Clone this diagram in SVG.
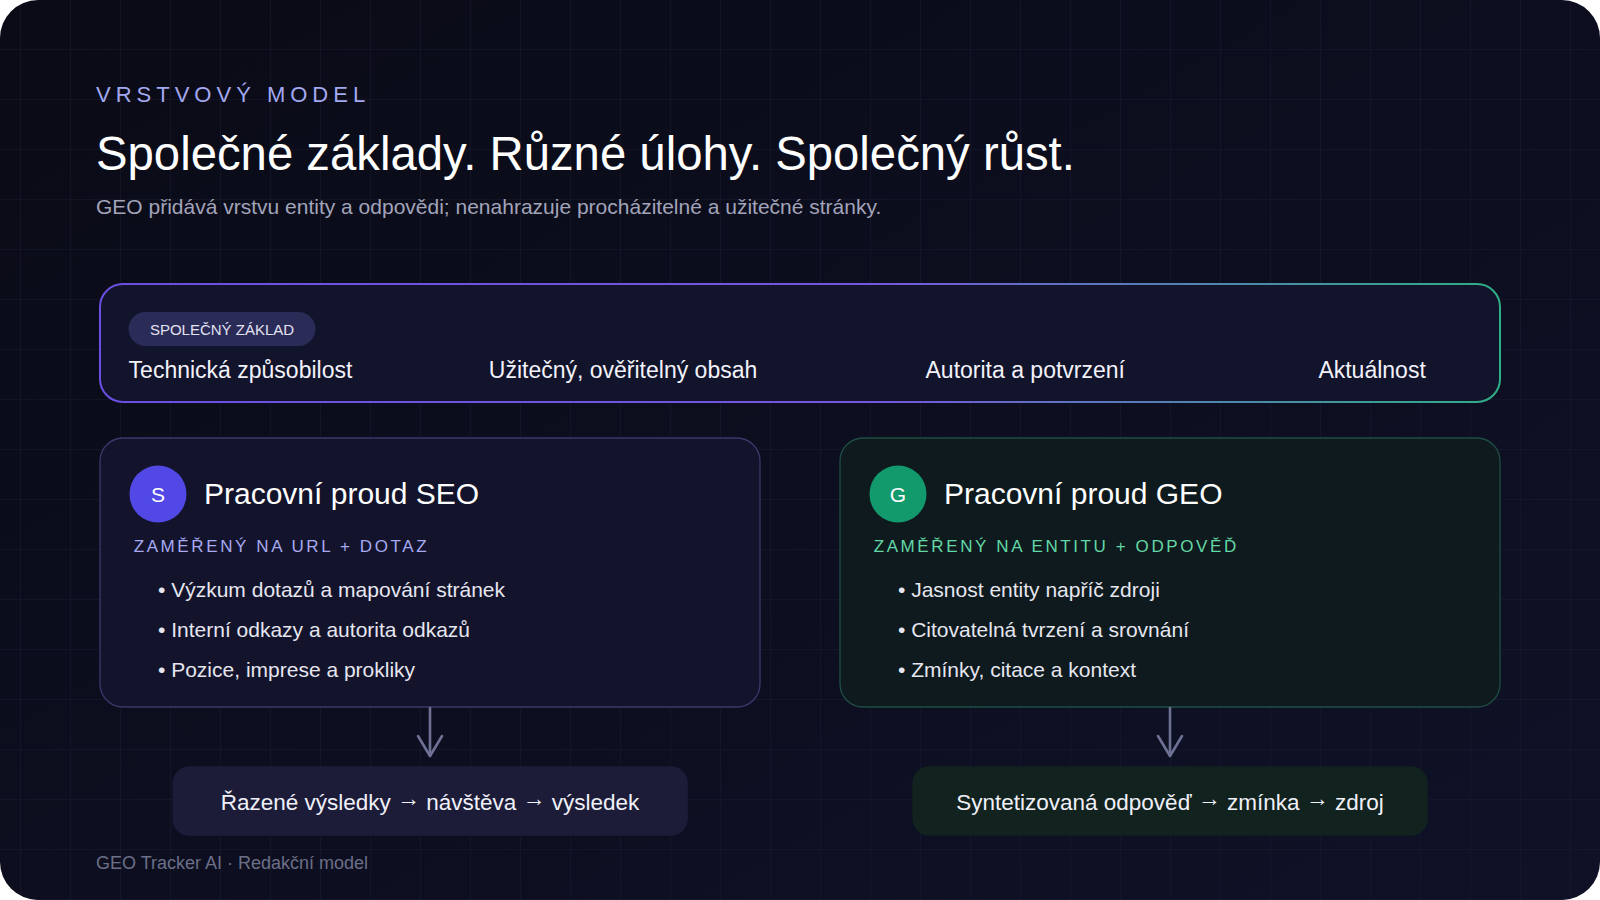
<svg xmlns="http://www.w3.org/2000/svg" width="1600" height="900" viewBox="0 0 1600 900">
  <defs>
    <linearGradient id="bg" x1="0" y1="0" x2="1" y2="1">
      <stop offset="0" stop-color="#0a0b16"/>
      <stop offset="1" stop-color="#0f1127"/>
    </linearGradient>
    <pattern id="grid" x="20" y="-1" width="50" height="50" patternUnits="userSpaceOnUse">
      <path d="M0 0 V50 M0 0 H50" fill="none" stroke="#1a1c32" stroke-width="1"/>
    </pattern>
    <linearGradient id="bandStroke" x1="0" y1="0" x2="1" y2="0">
      <stop offset="0" stop-color="#6a4fe2"/>
      <stop offset="0.55" stop-color="#7656de"/>
      <stop offset="1" stop-color="#2fae86"/>
    </linearGradient>
    <marker id="chev" viewBox="0 0 26 28" refX="23" refY="14" markerWidth="26" markerHeight="28" markerUnits="userSpaceOnUse" orient="auto" overflow="visible">
      <path d="M3 2 L23 14 L3 26" fill="none" stroke="#6e7094" stroke-width="2.6" stroke-linecap="round" stroke-linejoin="round"/>
    </marker>
    <style>
      text { font-family: "Liberation Sans", Arial, Helvetica, sans-serif; }
      .eyebrow { font-size: 22px; letter-spacing: 5px; fill: #a3a8f0; }
      .title { font-size: 47.3px; fill: #ffffff; }
      .subtitle { font-size: 21px; fill: #a2a4ba; }
      .band { fill: #12142b; stroke: url(#bandStroke); stroke-width: 2; }
      .pill { fill: #2b2b58; }
      .pilltext { font-size: 15px; fill: #e2e2f2; text-anchor: middle; }
      .item { font-size: 23px; font-weight: 500; fill: #f2f2fa; }
      .card-seo { fill: #13142b; stroke: #3a396c; stroke-width: 1.3; }
      .card-geo { fill: #0e1a1d; stroke: #1f4d44; stroke-width: 1.3; }
      .badge-seo { fill: #5148e6; }
      .badge-geo { fill: #129a6c; }
      .badgetext { font-size: 21px; fill: #ffffff; text-anchor: middle; }
      .cardtitle { font-size: 30px; fill: #ffffff; }
      .focus { font-size: 17px; letter-spacing: 2.6px; }
      .focus-seo { fill: #a7aaf2; }
      .focus-geo { fill: #62d8a6; }
      .bullet { font-size: 21px; fill: #e6e6f0; }
      .res-seo { fill: #1c1c38; }
      .res-geo { fill: #12221f; }
      .restext { font-size: 22.5px; fill: #f0f0f8; text-anchor: middle; }
      .arr { font-size: 23px; }
      .footer { font-size: 18px; fill: #6c6f88; }
      .conn { stroke: #6e7094; stroke-width: 2.6; fill: none; stroke-linecap: round; marker-end: url(#chev); }
    </style>
  </defs>

  <rect x="0" y="0" width="1600" height="900" fill="#ffffff"/>
  <rect x="0" y="0" width="1600" height="900" rx="38" fill="url(#bg)"/>
  <rect x="0" y="0" width="1600" height="900" rx="38" fill="url(#grid)"/>

  <g id="header">
    <text class="eyebrow" x="96" y="102">VRSTVOVÝ MODEL</text>
    <text class="title" x="96" y="170">Společné základy. Různé úlohy. Společný růst.</text>
    <text class="subtitle" x="96" y="214">GEO přidává vrstvu entity a odpovědi; nenahrazuje procházitelné a užitečné stránky.</text>
  </g>

  <g id="shared-foundation">
    <rect class="band" x="100" y="284" width="1400" height="118" rx="23"/>
    <rect class="pill" x="128.5" y="312" width="187" height="34" rx="17"/>
    <text class="pilltext" x="222" y="334.5">SPOLEČNÝ ZÁKLAD</text>
    <text class="item" x="128.6" y="377.5">Technická způsobilost</text>
    <text class="item" x="488.8" y="377.5">Užitečný, ověřitelný obsah</text>
    <text class="item" x="925.5" y="377.5">Autorita a potvrzení</text>
    <text class="item" x="1318.4" y="377.5">Aktuálnost</text>
  </g>

  <g id="seo-workstream">
    <rect class="card-seo" x="100" y="438" width="660" height="269" rx="23"/>
    <circle class="badge-seo" cx="158" cy="494" r="28.5"/>
    <text class="badgetext" x="158" y="501.5">S</text>
    <text class="cardtitle" x="204" y="504">Pracovní proud SEO</text>
    <text class="focus focus-seo" x="133.7" y="552">ZAMĚŘENÝ NA URL + DOTAZ</text>
    <text class="bullet" x="158" y="597">• Výzkum dotazů a mapování stránek</text>
    <text class="bullet" x="158" y="637">• Interní odkazy a autorita odkazů</text>
    <text class="bullet" x="158" y="676.5">• Pozice, imprese a prokliky</text>
  </g>

  <g id="geo-workstream">
    <rect class="card-geo" x="840" y="438" width="660" height="269" rx="23"/>
    <circle class="badge-geo" cx="898" cy="494" r="28.5"/>
    <text class="badgetext" x="898" y="501.5">G</text>
    <text class="cardtitle" x="944" y="504">Pracovní proud GEO</text>
    <text class="focus focus-geo" x="873.7" y="552">ZAMĚŘENÝ NA ENTITU + ODPOVĚĎ</text>
    <text class="bullet" x="898" y="597">• Jasnost entity napříč zdroji</text>
    <text class="bullet" x="898" y="637">• Citovatelná tvrzení a srovnání</text>
    <text class="bullet" x="898" y="676.5">• Zmínky, citace a kontext</text>
  </g>

  <g id="seo-outcome">
    <rect class="res-seo" x="172.4" y="766.3" width="515.4" height="69.4" rx="17"/>
    <text class="restext" x="430" y="810">Řazené výsledky <tspan class="arr" dy="-4">→</tspan><tspan dy="4"> návštěva </tspan><tspan class="arr" dy="-4">→</tspan><tspan dy="4"> výsledek</tspan></text>
  </g>

  <g id="geo-outcome">
    <rect class="res-geo" x="912.4" y="766.3" width="515.4" height="69.4" rx="17"/>
    <text class="restext" x="1170" y="810">Syntetizovaná odpověď <tspan class="arr" dy="-4">→</tspan><tspan dy="4"> zmínka </tspan><tspan class="arr" dy="-4">→</tspan><tspan dy="4"> zdroj</tspan></text>
  </g>

  <g id="connectors">
    <path class="conn" d="M430 708 V756"/>
    <path class="conn" d="M1170 708 V756"/>
  </g>

  <g id="footer">
    <text class="footer" x="96" y="869">GEO Tracker AI · Redakční model</text>
  </g>
</svg>
